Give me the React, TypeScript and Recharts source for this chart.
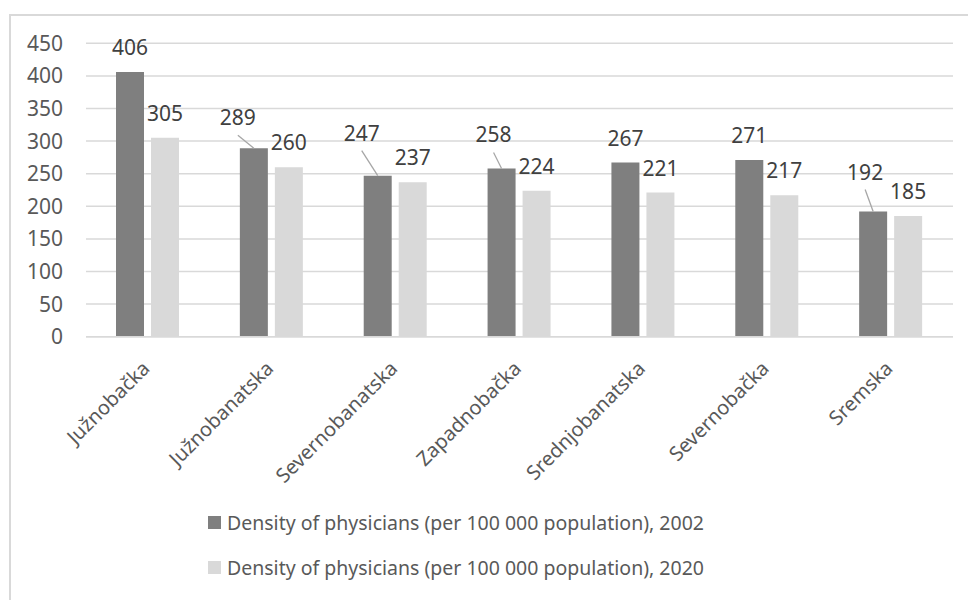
import React from "react";
import { BarChart, Bar, XAxis, YAxis, CartesianGrid } from "recharts";

const districts = [
  "Južnobačka",
  "Južnobanatska",
  "Severnobanatska",
  "Zapadnobačka",
  "Srednjobanatska",
  "Severnobačka",
  "Sremska",
];
const density2002 = [406, 289, 247, 258, 267, 271, 192];
const density2020 = [305, 260, 237, 224, 221, 217, 185];
const yTicks = [0, 50, 100, 150, 200, 250, 300, 350, 400, 450];

const seriesNames = [
  "Density of physicians (per 100 000 population), 2002",
  "Density of physicians (per 100 000 population), 2020",
];

// labels that were dragged away from the bar in the original (dx, extra lift)
const moved2002: [number, number][] = [
  [0, 0], [-16, 6], [-16, 18], [-8, 9], [0, 0], [0, 0], [-8, 15],
];
const moved2020: [number, number][] = districts.map(() => [0, 0]);

const FONT = "'Noto Sans', 'Open Sans', sans-serif";
const DARK = "#7f7f7f";
const LIGHT = "#d9d9d9";
const GRID = "#d9d9d9";

const data = districts.map((name, i) => ({
  name,
  y2002: density2002[i],
  y2020: density2020[i],
}));

function makeLabel(moved: [number, number][]) {
  return (props: any) => {
    const { x, y, width, value, index } = props;
    const cx = x + width / 2;
    const [dx, lift] = moved[index] || [0, 0];
    const ty = y - 25 - lift;
    const tx = cx + dx;
    return (
      <g>
        {dx !== 0 && (
          <line x1={tx} y1={ty + 18} x2={cx} y2={y} stroke="#a6a6a6" strokeWidth={1.3} />
        )}
        <text
          x={tx}
          y={ty}
          textAnchor="middle"
          dominantBaseline="central"
          fill="#404040"
          fontSize={21}
          fontFamily={FONT}
        >
          {value}
        </text>
      </g>
    );
  };
}

function XTick(props: any) {
  const { x, y, payload } = props;
  const px = x + 3;
  const py = y + 25;
  return (
    <text
      x={px}
      y={py}
      transform={`rotate(-45, ${px}, ${py})`}
      textAnchor="end"
      fill="#595959"
      fontSize={20}
      fontFamily={FONT}
    >
      {payload.value}
    </text>
  );
}

export default function App() {
  return (
    <div
      style={{
        position: "absolute",
        left: 0,
        top: 0,
        width: 968,
        height: 600,
        background: "#fff",
        overflow: "hidden",
      }}
    >
      <div
        style={{
          position: "absolute",
          left: 9,
          top: 14,
          width: 980,
          height: 620,
          borderLeft: `2px solid ${GRID}`,
          borderTop: `2px solid ${GRID}`,
        }}
      />
      <div style={{ position: "absolute", left: 0, top: 0 }}>
        <BarChart
          width={968}
          height={600}
          data={data}
          margin={{ top: 43.3, right: 15, left: 26, bottom: 0 }}
          barSize={28}
          barGap={7}
        >
          <CartesianGrid vertical={false} stroke={GRID} strokeWidth={1.5} />
          <XAxis
            dataKey="name"
            height={263.3}
            axisLine={{ stroke: GRID, strokeWidth: 1.5 }}
            tickLine={false}
            interval={0}
            tick={<XTick />}
          />
          <YAxis
            width={60}
            domain={[0, 450]}
            ticks={yTicks}
            axisLine={false}
            tickLine={false}
            tickMargin={17}
            tick={{ fill: "#595959", fontSize: 21, fontFamily: FONT }}
          />
          <Bar
            dataKey="y2002"
            fill={DARK}
            isAnimationActive={false}
            label={makeLabel(moved2002)}
          />
          <Bar
            dataKey="y2020"
            fill={LIGHT}
            isAnimationActive={false}
            label={makeLabel(moved2020)}
          />
        </BarChart>
      </div>
      {seriesNames.map((s, i) => (
        <div
          key={s}
          style={{
            position: "absolute",
            left: 208,
            top: 510 + i * 45,
            height: 24,
            display: "flex",
            alignItems: "center",
            fontFamily: FONT,
            fontSize: 19.5,
            color: "#595959",
            whiteSpace: "nowrap",
          }}
        >
          <span
            style={{
              display: "inline-block",
              width: 13,
              height: 13,
              background: i === 0 ? DARK : LIGHT,
              marginRight: 6,
            }}
          />
          {s}
        </div>
      ))}
    </div>
  );
}
